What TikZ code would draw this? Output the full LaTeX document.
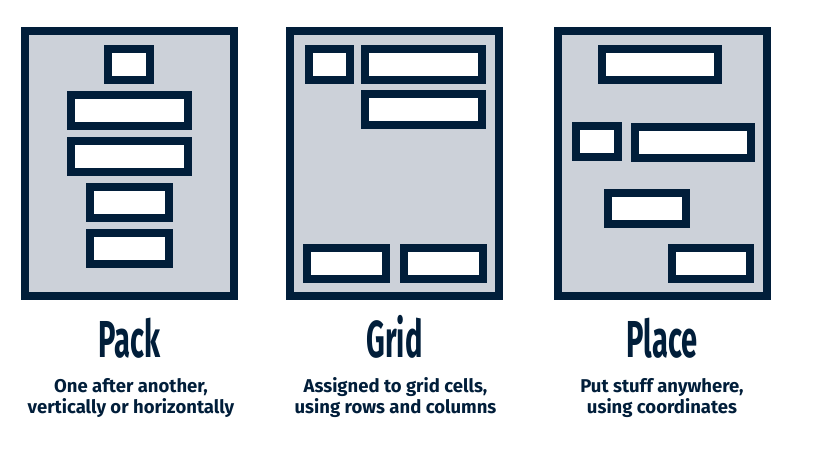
\documentclass[tikz,border=0pt]{standalone}
\usepackage{fontspec}
\setmainfont{Fira Sans}
\usepackage{graphicx}
\definecolor{navy}{HTML}{011E3A}
\definecolor{panel}{HTML}{CCD1D9}
\tikzset{
  frame/.style={draw=navy, line width=8pt, fill=panel, rectangle, inner sep=0pt,
    minimum width=209pt, minimum height=265pt},
  widget/.style={draw=navy, line width=8pt, fill=white, rectangle, inner sep=0pt,
    minimum height=31pt},
  title/.style={anchor=base, text=navy, inner sep=0pt,
    font=\fontsize{52}{52}\selectfont\bfseries},
  caption/.style={anchor=base, text=navy, inner sep=0pt, align=center,
    font=\fontsize{18.5}{20.5}\selectfont\bfseries},
}
\newcommand{\narrow}[1]{\scalebox{0.56}[1]{#1}}
\begin{document}
\begin{tikzpicture}[x=1pt, y=-1pt]
\useasboundingbox (0,0) rectangle (837,451);

% Pack panel
\node[frame] (pack) at (129.5,163.5) {};
\node[widget, minimum width=42pt]  (pk1) at (129,64) {};
\node[widget, minimum width=117pt] (pk2) at (129.5,110.5) {};
\node[widget, minimum width=117pt] (pk3) at (129.5,156.5) {};
\node[widget, minimum width=79pt]  (pk4) at (129.5,202.5) {};
\node[widget, minimum width=79pt]  (pk5) at (129.5,248.5) {};

% Grid panel
\node[frame] (grid) at (394.5,163.5) {};
\node[widget, minimum width=41pt]  (gr1) at (329.5,64) {};
\node[widget, minimum width=117pt] (gr2) at (423.5,64) {};
\node[widget, minimum width=117pt] (gr3) at (423.5,109.5) {};
\node[widget, minimum width=79pt]  (gr4) at (346.5,263.5) {};
\node[widget, minimum width=79pt]  (gr5) at (443.5,263.5) {};

% Place panel
\node[frame] (place) at (662,163.5) {};
\node[widget, minimum width=116pt] (pl1) at (660,64) {};
\node[widget, minimum width=42pt]  (pl2) at (597,141.5) {};
\node[widget, minimum width=116pt] (pl3) at (693,142.5) {};
\node[widget, minimum width=78pt]  (pl4) at (647,208.5) {};
\node[widget, minimum width=78pt]  (pl5) at (711,263.5) {};

% Titles
\node[title] (packT)  at (129.5,357.5) {\narrow{Pack}};
\node[title] (gridT)  at (394.5,357.5) {\narrow{Grid}};
\node[title] (placeT) at (662,357.5)   {\narrow{Place}};

% Captions (base anchor sits on the last line)
\node[caption] (packC)  at (131,413) {One after another,\\vertically or horizontally};
\node[caption] (gridC)  at (395.5,413) {Assigned to grid cells,\\using rows and columns};
\node[caption] (placeC) at (662,413) {Put stuff anywhere,\\using coordinates};
\end{tikzpicture}
\end{document}
